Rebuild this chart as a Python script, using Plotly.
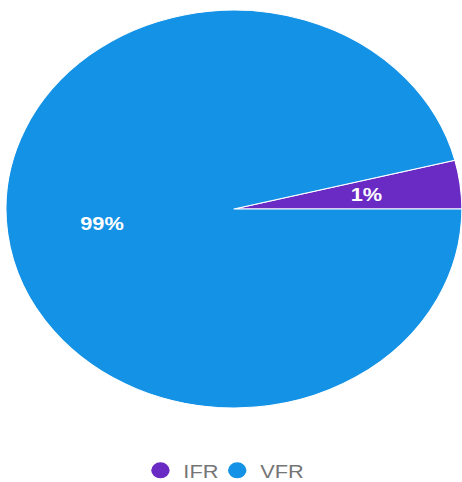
import math
import plotly.graph_objects as go

# Data
categories = ["IFR", "VFR"]
slice_shares = [3.95, 96.05]      # angular share of each wedge as drawn
slice_labels = ["1%", "99%"]      # percentage labels printed on the wedges
slice_colors = ["#6a2ac4", "#1492e6"]

STRETCH = 1.146  # the reference is horizontally stretched
W, H = 403, 482
CX, CY, R = 204.2, 209.0, 199.0   # pie centre (px from left/top) and radius
LABEL_RADIUS = 0.585

total = sum(slice_shares)
first_angle = slice_shares[0] / total * 360

fig = go.Figure()
fig.add_trace(go.Pie(
    labels=categories,
    values=slice_shares,
    textinfo="none",
    marker=dict(colors=slice_colors, line=dict(color="white", width=1)),
    sort=False,
    direction="clockwise",
    rotation=90 - first_angle,
    showlegend=False,
    hoverinfo="label+percent",
    domain=dict(x=[(CX - R) / W, min(1.0, (CX + R) / W)],
                y=[(H - CY - R) / H, (H - CY + R) / H]),
))

# percentage labels placed at the middle angle of each wedge
annotations = []
start = 0.0  # counter-clockwise from 3 o'clock
for share, lab in zip(slice_shares, slice_labels):
    span = share / total * 360
    mid = math.radians(start + span / 2)
    start += span
    annotations.append(dict(
        x=(CX + LABEL_RADIUS * R * math.cos(mid)) / W,
        y=(H - CY + LABEL_RADIUS * R * math.sin(mid)) / H,
        xref="paper", yref="paper", text=lab, showarrow=False,
        xanchor="center", yanchor="middle",
        font=dict(family="Liberation Sans, Arial", size=19, color="white", weight="bold"),
    ))

# legend entries (circle symbols)
for name, col in zip(categories, slice_colors):
    fig.add_trace(go.Scatter(
        x=[None], y=[None], mode="markers", name=name,
        marker=dict(symbol="circle", size=16, color=col),
    ))
# invisible spacer entry so the last label is not clipped
fig.add_trace(go.Scatter(
    x=[None], y=[None], mode="markers", name=" ",
    marker=dict(size=1, color="rgba(0,0,0,0)"), hoverinfo="skip",
))

fig.update_layout(
    width=W, height=H,
    margin=dict(l=0, r=0, t=0, b=0, autoexpand=False),
    paper_bgcolor="white", plot_bgcolor="white",
    xaxis=dict(visible=False), yaxis=dict(visible=False),
    annotations=annotations,
    showlegend=True,
    legend=dict(
        orientation="h", x=(143 - 23) / W, xanchor="left",
        y=(H - 470.5) / H, yanchor="middle",
        font=dict(family="Liberation Sans, Arial", size=19, color="#757575"),
        itemwidth=30, entrywidth=22, bgcolor="rgba(0,0,0,0)",
        itemclick=False, itemdoubleclick=False,
    ),
)

post = (
    "var gd=document.getElementById('{plot_id}');"
    "document.body.style.margin='0';"
    "gd.style.transformOrigin='0 0';"
    "gd.style.transform='scaleX(%s)';" % STRETCH
)
fig.write_html("out.html", post_script=post, config={"displayModeBar": False})
